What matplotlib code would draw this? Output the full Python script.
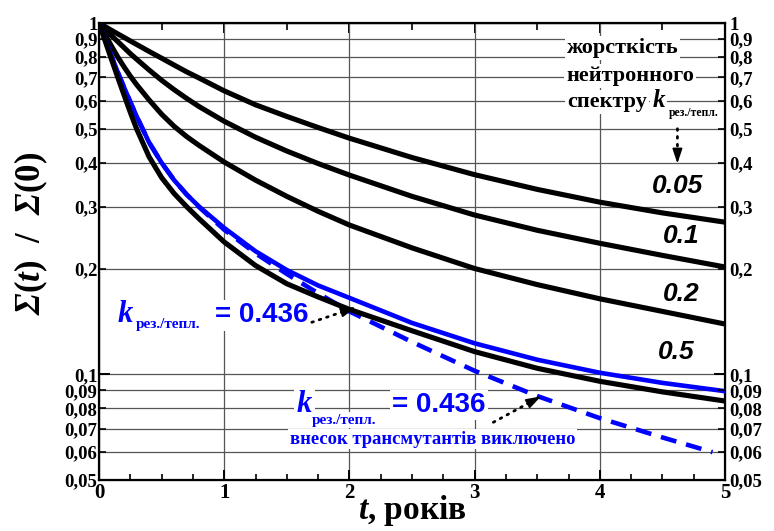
import numpy as np
import matplotlib.pyplot as plt
from matplotlib.ticker import FixedLocator

plt.rcParams['mathtext.fontset'] = 'custom'
plt.rcParams['mathtext.rm'] = 'Liberation Serif:bold'
plt.rcParams['mathtext.it'] = 'Liberation Serif:italic:bold'
plt.rcParams['mathtext.bf'] = 'Liberation Serif:bold'
# italic capital sigma (mathtext keeps Greek capitals upright in \mathit)
plt.rcParams['mathtext.sf'] = 'Liberation Serif:italic:bold'

# ---- data: relative cross-section Sigma(t)/Sigma(0) vs time, years ----
t_years = [0, 0.05, 0.1, 0.15, 0.2, 0.25, 0.3, 0.4, 0.5, 0.6, 0.7, 0.8,
           1.0, 1.25, 1.5, 1.75, 2, 2.5, 3, 3.5, 4, 4.5, 5]

sigma_k005 = [1, 0.976, 0.953, 0.931, 0.910, 0.889, 0.869, 0.830, 0.794, 0.759,
              0.726, 0.697, 0.641, 0.585, 0.542, 0.504, 0.470, 0.414, 0.370,
              0.336, 0.309, 0.288, 0.271]
sigma_k01 = [1, 0.959, 0.920, 0.885, 0.851, 0.818, 0.789, 0.735, 0.687, 0.646,
             0.610, 0.578, 0.525, 0.473, 0.432, 0.398, 0.369, 0.321, 0.284,
             0.257, 0.236, 0.218, 0.202]
sigma_k02 = [1, 0.925, 0.859, 0.800, 0.750, 0.706, 0.668, 0.604, 0.550, 0.508,
             0.475, 0.448, 0.402, 0.357, 0.321, 0.291, 0.266, 0.229, 0.200,
             0.180, 0.164, 0.151, 0.139]
sigma_k05 = [1, 0.887, 0.787, 0.700, 0.624, 0.557, 0.500, 0.416, 0.363, 0.327,
             0.300, 0.277, 0.238, 0.204, 0.181, 0.166, 0.153, 0.133, 0.116,
             0.104, 0.0955, 0.0891, 0.0839]
sigma_k0436 = [1, 0.895, 0.804, 0.724, 0.656, 0.596, 0.543, 0.457, 0.400, 0.357,
               0.325, 0.300, 0.261, 0.224, 0.198, 0.179, 0.165, 0.140, 0.1225,
               0.110, 0.101, 0.0945, 0.0895]

# k = 0.436 without transmutant contribution
t_years_nt = [0, 0.05, 0.1, 0.15, 0.2, 0.25, 0.3, 0.4, 0.5, 0.6, 0.7, 0.8,
              1.0, 1.25, 1.5, 1.75, 2, 2.5, 3, 3.5, 4, 4.5, 4.9]
sigma_k0436_nt = [1, 0.895, 0.804, 0.724, 0.656, 0.596, 0.543, 0.457, 0.400, 0.357,
                  0.325, 0.299, 0.258, 0.221, 0.193, 0.170, 0.151, 0.1236, 0.1023,
                  0.0867, 0.075, 0.0661, 0.060]

k_labels = ['0.05', '0.1', '0.2', '0.5']
k_label_pos = [(4.62, 0.344), (4.65, 0.247), (4.65, 0.169), (4.61, 0.116)]

y_major = [0.1, 1.0]
y_minor = [0.05, 0.06, 0.07, 0.08, 0.09, 0.2, 0.3, 0.4, 0.5, 0.6, 0.7, 0.8, 0.9]


def comma(v):
    return f'{v:g}'.replace('.', ',')


BLUE = '#0000ff'
SERIF = 'Liberation Serif'
SANS = 'Liberation Sans'

fig = plt.figure(figsize=(7.74, 5.31), dpi=100)
ax = fig.add_axes([99 / 774, 1 - 480 / 531, 626 / 774, 457 / 531])
ax.set_yscale('log')
ax.set_xlim(0, 5)
ax.set_ylim(0.05, 1)

# curves
lw = 3.7
for ys in (sigma_k005, sigma_k01, sigma_k02):
    ax.plot(t_years, ys, color='k', lw=lw, zorder=3)
ax.plot(t_years, sigma_k0436, color=BLUE, lw=3.3, zorder=3)
ax.plot(t_years_nt, sigma_k0436_nt, color=BLUE, lw=3.3, ls=(0, (3.5, 2.2)), zorder=3)
ax.plot(t_years, sigma_k05, color='k', lw=lw, zorder=4)

# axes, ticks, grid
for sp in ax.spines.values():
    sp.set_linewidth(1.6)

ax.xaxis.set_major_locator(FixedLocator([0, 1, 2, 3, 4, 5]))
ax.xaxis.set_minor_locator(FixedLocator(np.arange(0, 5.01, 0.25)))
ax.set_xticklabels(['0', '1', '2', '3', '4', '5'], fontfamily=SERIF,
                   fontweight='bold', fontsize=15)
ax.tick_params(axis='x', which='major', direction='in', length=7, width=1.4, pad=2)
ax.tick_params(axis='x', which='minor', direction='in', length=4, width=1.2)

ytick_font = dict(fontfamily=SERIF, fontweight='bold', fontsize=13.5)
ax.yaxis.set_major_locator(FixedLocator(y_major))
ax.yaxis.set_minor_locator(FixedLocator(y_minor))
ax.set_yticklabels([comma(v) for v in y_major], **ytick_font)
ax.set_yticklabels([comma(v) for v in y_minor], minor=True, **ytick_font)
ax.tick_params(axis='y', which='major', direction='in', length=8, width=1.4, pad=1)
ax.tick_params(axis='y', which='minor', direction='in', length=5, width=1.2, pad=1)

ax.grid(axis='x', which='major', color='#555555', lw=0.9, zorder=0)
ax.grid(axis='y', which='both', color='#555555', lw=0.9, zorder=0)
ax.set_axisbelow(True)

ax_r = ax.twinx()
ax_r.set_yscale('log')
ax_r.set_ylim(0.05, 1)
ax_r.yaxis.set_major_locator(FixedLocator(y_major))
ax_r.yaxis.set_minor_locator(FixedLocator(y_minor))
ax_r.set_yticklabels([comma(v) for v in y_major], **ytick_font)
ax_r.set_yticklabels([comma(v) for v in y_minor], minor=True, **ytick_font)
ax_r.tick_params(axis='y', which='major', direction='in', length=8, width=1.4, pad=3)
ax_r.tick_params(axis='y', which='minor', direction='in', length=5, width=1.2, pad=3)

ax_t = ax.secondary_xaxis('top')
ax_t.xaxis.set_major_locator(FixedLocator([0, 1, 2, 3, 4, 5]))
ax_t.xaxis.set_minor_locator(FixedLocator(np.arange(0, 5.01, 0.5)))
ax_t.set_xticklabels([])
ax_t.tick_params(which='major', direction='in', length=7, width=1.4)
ax_t.tick_params(which='minor', direction='in', length=5, width=1.2)

# axis titles
ax.set_ylabel(r'$\mathsf{Σ}(\mathit{t})\ \ /\ \ \mathsf{Σ}(0)$', fontsize=25)
ax.yaxis.set_label_coords(-0.078, 0.54)
ax.set_xlabel(r'$\mathit{t}$' + ', років', fontfamily=SERIF, fontweight='bold',
              fontsize=24, labelpad=-7)

# curve labels
for lab, (x, y) in zip(k_labels, k_label_pos):
    ax.text(x, y, lab, fontfamily=SANS, fontstyle='italic', fontweight='bold',
            fontsize=19, ha='center', va='center', zorder=5)

white = dict(boxstyle='square,pad=0.08', fc='white', ec='none')
txt = dict(fontfamily=SERIF, fontweight='bold', zorder=5, bbox=white)

# spectrum hardness caption
ax.text(4.18, 0.821, 'жорсткість', fontsize=16, ha='center', va='baseline', **txt)
ax.text(4.24, 0.684, 'нейтронного', fontsize=16, ha='center', va='baseline', **txt)
ax.text(3.74, 0.577, 'спектру', fontsize=16, ha='left', va='baseline', **txt)
ax.text(4.42, 0.577, 'k', fontsize=18, fontstyle='italic', ha='left', va='baseline', **txt)
ax.text(4.55, 0.545, 'рез./тепл.', fontsize=8.5, ha='left', va='baseline', **txt)


def dotted_arrow(start, tip, head_px=14):
    p0 = ax.transData.transform(start)
    p1 = ax.transData.transform(tip)
    u = (p1 - p0) / np.hypot(*(p1 - p0))
    ax.annotate('', xy=tip, xytext=start,
                arrowprops=dict(arrowstyle='-', ls=(0, (0.6, 2.2)), lw=2.0, color='k',
                                capstyle='round', shrinkA=0, shrinkB=head_px * 0.72),
                zorder=6)
    ax.annotate('', xy=tip, xytext=(-u[0] * head_px, -u[1] * head_px),
                textcoords='offset pixels',
                arrowprops=dict(arrowstyle='-|>,head_length=0.9,head_width=0.3',
                                lw=1.2, color='k', shrinkA=0, shrinkB=0),
                zorder=6)


dotted_arrow((4.62, 0.50), (4.62, 0.398), head_px=12)

# k = 0.436 annotation
ax.text(0.15, 0.1406, 'k', color=BLUE, fontsize=22, fontstyle='italic',
        ha='left', va='baseline', **txt)
ax.text(0.29, 0.1355, 'рез./тепл.', color=BLUE, fontsize=11, ha='left',
        va='baseline', **txt)
ax.text(0.93, 0.1406, '= 0.436', color=BLUE, fontsize=20, fontfamily=SANS,
        fontweight='bold', ha='left', va='baseline', zorder=5, bbox=white)
dotted_arrow((1.70, 0.1406), (2.05, 0.155))

# k = 0.436 without transmutants
ax.text(1.58, 0.0782, 'k', color=BLUE, fontsize=22, fontstyle='italic',
        ha='left', va='baseline', **txt)
ax.text(1.70, 0.0724, 'рез./тепл.', color=BLUE, fontsize=11, ha='left',
        va='baseline', **txt)
ax.text(2.34, 0.0782, '= 0.436', color=BLUE, fontsize=20, fontfamily=SANS,
        fontweight='bold', ha='left', va='baseline', zorder=5, bbox=white)
ax.text(1.525, 0.0635, 'внесок трансмутантів виключено', color=BLUE, fontsize=13.4,
        ha='left', va='baseline', **txt)
dotted_arrow((3.15, 0.0730), (3.53, 0.0865))

fig.savefig('out.png', dpi=100)
